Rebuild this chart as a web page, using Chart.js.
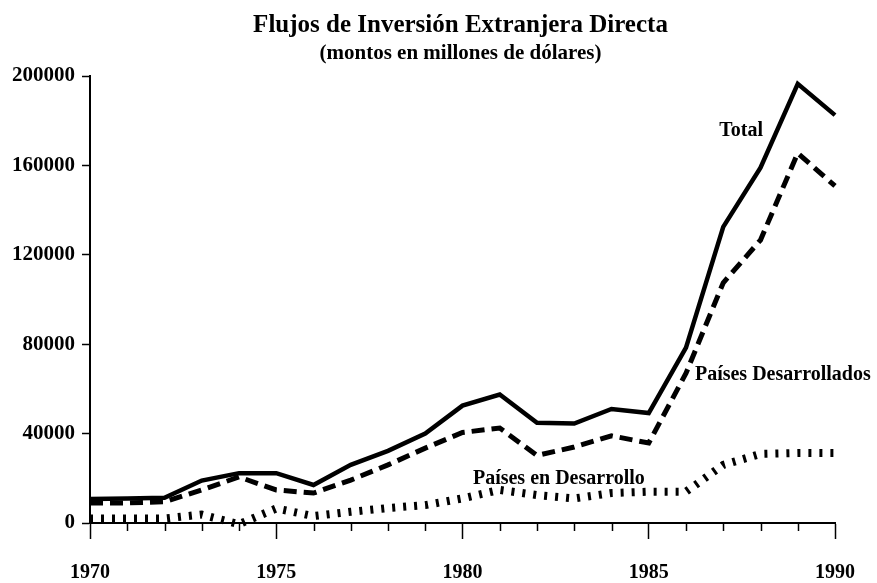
<!DOCTYPE html>
<html>
<head>
<meta charset="utf-8">
<script src="https://cdn.jsdelivr.net/npm/chart.js@4.4.1/dist/chart.umd.min.js"></script>
<style>
html,body{margin:0;padding:0;background:#fff;}
#wrap{width:877px;height:583px;}
</style>
</head>
<body>
<div id="wrap"><canvas id="c" width="877" height="583"></canvas></div>
<script>
// ---- data ----
const years = [1970,1971,1972,1973,1974,1975,1976,1977,1978,1979,1980,1981,1982,1983,1984,1985,1986,1987,1988,1989,1990];
const total = [10700,11000,11300,19000,22300,22300,17000,26000,32300,40000,52500,57500,44800,44500,51000,49200,78500,132500,159000,196500,182500];
const desarrollados = [9000,9000,9500,14800,20600,14800,13400,19200,26000,33500,40500,42500,30200,34000,39000,35800,67000,107500,126600,165500,150800];
const enDesarrollo = [2000,2000,2000,3800,-500,6500,3100,5000,6700,8000,11000,14800,12500,11000,13400,14000,14000,26000,30900,31300,31300];
const yTicks = [0,40000,80000,120000,160000,200000];
const xLabelYears = [1970,1975,1980,1985,1990];
const titleText = 'Flujos de Inversión Extranjera Directa';
const subtitleText = '(montos en millones de dólares)';
const seriesNames = ['Total','Países Desarrollados','Países en Desarrollo'];

// label anchors (in data units) for the in-chart series names
const seriesLabels = [
  {text: seriesNames[0], x: 1987.48, y: 175400, align: 'center'},
  {text: seriesNames[1], x: 1986.24, y: 66200, align: 'left'},
  {text: seriesNames[2], x: 1980.28, y: 19700, align: 'left'}
];

const SERIF = '"Liberation Serif", "Times New Roman", serif';
const toXY = arr => years.map((yr, i) => ({x: yr, y: arr[i]}));

const decor = {
  id: 'decor',
  afterDraw(chart) {
    const ctx = chart.ctx;
    const xs = chart.scales.x, ys = chart.scales.y;
    const ca = chart.chartArea;
    ctx.save();
    // minor year ticks
    ctx.strokeStyle = '#000';
    ctx.lineWidth = 1.5;
    years.forEach(yr => {
      if (!xLabelYears.includes(yr)) {
        const px = Math.round(xs.getPixelForValue(yr)) + 0.5;
        ctx.beginPath();
        ctx.moveTo(px, ca.bottom);
        ctx.lineTo(px, ca.bottom + 8);
        ctx.stroke();
      }
    });
    // titles
    const cx = (ca.left + ca.right) / 2 - 2;
    ctx.fillStyle = '#000';
    ctx.textAlign = 'center';
    ctx.textBaseline = 'middle';
    ctx.font = 'bold 25px ' + SERIF;
    ctx.fillText(titleText, cx, 26);
    ctx.font = 'bold 21px ' + SERIF;
    ctx.fillText(subtitleText, cx, 54);
    // series names
    ctx.font = 'bold 20px ' + SERIF;
    seriesLabels.forEach(l => {
      ctx.textAlign = l.align;
      ctx.fillText(l.text, xs.getPixelForValue(l.x), ys.getPixelForValue(l.y));
    });
    ctx.restore();
  }
};

new Chart(document.getElementById('c'), {
  type: 'line',
  data: {
    datasets: [
      {label: seriesNames[0], data: toXY(total), borderColor: '#000', borderWidth: 4.5,
       pointRadius: 0, tension: 0, clip: false, borderCapStyle: 'butt', borderJoinStyle: 'miter'},
      {label: seriesNames[1], data: toXY(desarrollados), borderColor: '#000', borderWidth: 5,
       borderDash: [13, 7], pointRadius: 0, tension: 0, clip: false, borderCapStyle: 'butt'},
      {label: seriesNames[2], data: toXY(enDesarrollo), borderColor: '#000', borderWidth: 8,
       borderDash: [3, 8], pointRadius: 0, tension: 0, clip: false, borderCapStyle: 'butt'}
    ]
  },
  options: {
    responsive: false,
    animation: false,
    devicePixelRatio: 1,
    layout: {padding: {top: 76, right: 42, left: 0, bottom: 0}},
    plugins: {legend: {display: false}, tooltip: {enabled: false}, title: {display: false}},
    scales: {
      x: {
        type: 'linear', min: 1970, max: 1990,
        afterBuildTicks: s => { s.ticks = years.map(v => ({value: v})); },
        afterFit: s => { s.height = 60; },
        ticks: {
          autoSkip: false, maxRotation: 0, padding: 22, color: '#000',
          font: {family: SERIF, size: 20, weight: 'bold'},
          callback: v => xLabelYears.includes(v) ? String(v) : ''
        },
        grid: {
          drawOnChartArea: false, drawTicks: true, tickLength: 16, tickWidth: 1.5,
          tickColor: c => (c.tick && xLabelYears.includes(c.tick.value)) ? '#000' : 'rgba(0,0,0,0)'
        },
        border: {display: true, color: '#000', width: 2}
      },
      y: {
        min: 0, max: 200000,
        afterBuildTicks: s => { s.ticks = yTicks.map(v => ({value: v})); },
        afterFit: s => { s.width = 90; },
        ticks: {padding: 7, color: '#000', font: {family: SERIF, size: 21, weight: 'bold'},
                callback: v => String(v)},
        grid: {drawOnChartArea: false, drawTicks: true, tickLength: 8, tickWidth: 1.5, tickColor: '#000'},
        border: {display: true, color: '#000', width: 2}
      }
    }
  },
  plugins: [decor]
});
</script>
</body>
</html>
